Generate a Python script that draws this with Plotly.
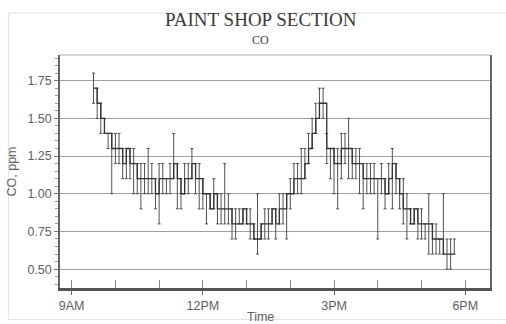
import pandas as pd
import plotly.graph_objects as go

# CO readings, 5-minute intervals starting 09:30
start_time = "2000-01-01 09:30"
interval = "5min"

co_level = [
    1.7, 1.6, 1.5, 1.4, 1.4, 1.3, 1.3, 1.3, 1.2, 1.3,
    1.2, 1.2, 1.1, 1.1, 1.1, 1.1, 1.1, 1.0, 1.1, 1.1,
    1.1, 1.1, 1.2, 1.1, 1.0, 1.1, 1.1, 1.2, 1.1, 1.1,
    1.0, 1.0, 0.9, 1.0, 0.9, 0.9, 0.9, 0.9, 0.8, 0.8,
    0.8, 0.9, 0.8, 0.8, 0.7, 0.7, 0.8, 0.8, 0.8, 0.9,
    0.8, 0.9, 0.9, 1.0, 1.0, 1.1, 1.1, 1.1, 1.2, 1.3,
    1.4, 1.5, 1.6, 1.6, 1.3, 1.3, 1.2, 1.2, 1.3, 1.3,
    1.3, 1.2, 1.2, 1.2, 1.1, 1.1, 1.1, 1.1, 1.1, 1.1,
    1.0, 1.1, 1.2, 1.1, 1.0, 0.9, 0.9, 0.8, 0.9, 0.8,
    0.8, 0.8, 0.8, 0.7, 0.7, 0.7, 0.6, 0.6, 0.6, 0.6,
]
co_high = [
    1.8, 1.7, 1.6, 1.5, 1.4, 1.4, 1.4, 1.4, 1.3, 1.3,
    1.3, 1.3, 1.2, 1.2, 1.2, 1.3, 1.2, 1.1, 1.2, 1.2,
    1.1, 1.2, 1.4, 1.2, 1.1, 1.2, 1.2, 1.3, 1.2, 1.2,
    1.1, 1.0, 1.0, 1.1, 1.0, 1.0, 1.2, 1.0, 0.9, 0.9,
    0.9, 0.9, 0.9, 0.9, 0.8, 1.0, 0.8, 0.9, 0.9, 0.9,
    0.9, 1.0, 1.0, 1.0, 1.1, 1.2, 1.2, 1.3, 1.3, 1.4,
    1.5, 1.6, 1.7, 1.7, 1.4, 1.3, 1.3, 1.3, 1.4, 1.4,
    1.5, 1.3, 1.3, 1.3, 1.2, 1.2, 1.2, 1.2, 1.1, 1.2,
    1.1, 1.2, 1.3, 1.2, 1.1, 1.1, 1.0, 0.9, 0.9, 0.9,
    0.9, 0.8, 1.0, 0.8, 0.8, 0.7, 1.0, 0.7, 0.7, 0.7,
]
co_low = [
    1.6, 1.5, 1.4, 1.4, 1.3, 1.0, 1.2, 1.2, 1.1, 1.1,
    1.1, 1.0, 1.0, 0.9, 1.0, 1.0, 1.0, 0.9, 0.8, 1.0,
    1.0, 1.0, 1.1, 0.9, 0.9, 1.0, 1.0, 1.1, 1.0, 0.9,
    0.9, 0.8, 0.9, 0.9, 0.8, 0.8, 0.8, 0.8, 0.7, 0.7,
    0.8, 0.8, 0.8, 0.7, 0.7, 0.6, 0.7, 0.7, 0.7, 0.8,
    0.7, 0.8, 0.8, 0.7, 0.9, 1.0, 1.0, 1.0, 1.1, 1.2,
    1.3, 1.4, 1.6, 1.5, 1.2, 1.1, 1.0, 0.9, 1.1, 1.2,
    1.1, 1.1, 1.1, 1.0, 0.9, 1.0, 1.0, 1.0, 0.7, 1.0,
    0.9, 1.0, 0.9, 1.0, 0.9, 0.8, 0.7, 0.8, 0.8, 0.7,
    0.7, 0.7, 0.6, 0.6, 0.6, 0.6, 0.6, 0.5, 0.5, 0.6,
]

tick_times = ["2000-01-01 09:00", "2000-01-01 12:00", "2000-01-01 15:00", "2000-01-01 18:00"]
tick_labels = ["9AM", "12PM", "3PM", "6PM"]
y_ticks = [0.50, 0.75, 1.00, 1.25, 1.50, 1.75]

times = pd.date_range(start_time, periods=len(co_level), freq=interval)
err_plus = [h - v for h, v in zip(co_high, co_level)]
err_minus = [v - l for l, v in zip(co_low, co_level)]

fig = go.Figure()
fig.add_trace(go.Scatter(
    x=times, y=co_level,
    mode="lines",
    line=dict(color="#333333", width=1.3, shape="hv"),
    error_y=dict(type="data", symmetric=False, array=err_plus, arrayminus=err_minus,
                 color="#505050", thickness=1, width=1.5),
    showlegend=False,
))

tick_font = dict(family="Liberation Sans, Arial, sans-serif", size=12.5, color="#606060")

fig.update_layout(
    width=506, height=324,
    margin=dict(l=60, r=16, t=55, b=36, autoexpand=False),
    paper_bgcolor="white", plot_bgcolor="white",
    xaxis=dict(
        type="date", automargin=False,
        range=["2000-01-01 08:44", "2000-01-01 18:34"],
        tickmode="array", tickvals=tick_times, ticktext=tick_labels,
        tickfont=tick_font,
        showgrid=False, zeroline=False,
        showline=True, linecolor="#555555", linewidth=3,
        ticks="outside", ticklen=4, tickcolor="#666666",
        minor=dict(dtick=3600000, ticks="inside", ticklen=8, tickcolor="#888888", showgrid=False),
    ),
    yaxis=dict(
        automargin=False,
        range=[0.375, 1.92],
        tickmode="array", tickvals=y_ticks, tickformat=".2f",
        tickfont=tick_font,
        showgrid=True, gridcolor="#a0a0a0", gridwidth=1.2,
        zeroline=False,
        showline=True, linecolor="#666666", linewidth=1.5, mirror=True,
        ticks="outside", ticklen=4, tickcolor="#777777",
        minor=dict(dtick=0.05, ticks="outside", ticklen=3, tickcolor="#999999", showgrid=False),
        title=dict(text="CO, ppm", font=tick_font, standoff=8),
    ),
    shapes=[
        # light outer frame around the whole chart
        dict(type="rect", xref="paper", yref="paper", x0=-0.12, x1=1.04, y0=-0.135, y1=1.18,
             line=dict(color="#e2e2e2", width=1), layer="below"),
        # thin top border of the plot area
        dict(type="line", xref="paper", yref="paper", x0=0, x1=1, y0=1, y1=1,
             line=dict(color="#aaaaaa", width=1)),
    ],
    annotations=[
        dict(text="PAINT SHOP SECTION", xref="paper", yref="paper", x=0.467, xanchor="center",
             y=1.0, yshift=23, yanchor="bottom", showarrow=False,
             font=dict(family="Liberation Serif, Times New Roman, serif", size=19, color="#3a3a3a")),
        dict(text="CO", xref="paper", yref="paper", x=0.467, xanchor="center",
             y=1.0, yshift=6, yanchor="bottom", showarrow=False,
             font=dict(family="Liberation Serif, Times New Roman, serif", size=12, color="#444444")),
        # x-axis title near the bottom edge of the chart
        dict(text="Time", xref="paper", yref="paper", x=0.467, xanchor="center",
             y=0.0, yshift=-20, yanchor="top", showarrow=False,
             font=tick_font),
    ],
)

fig.write_html("out.html")
